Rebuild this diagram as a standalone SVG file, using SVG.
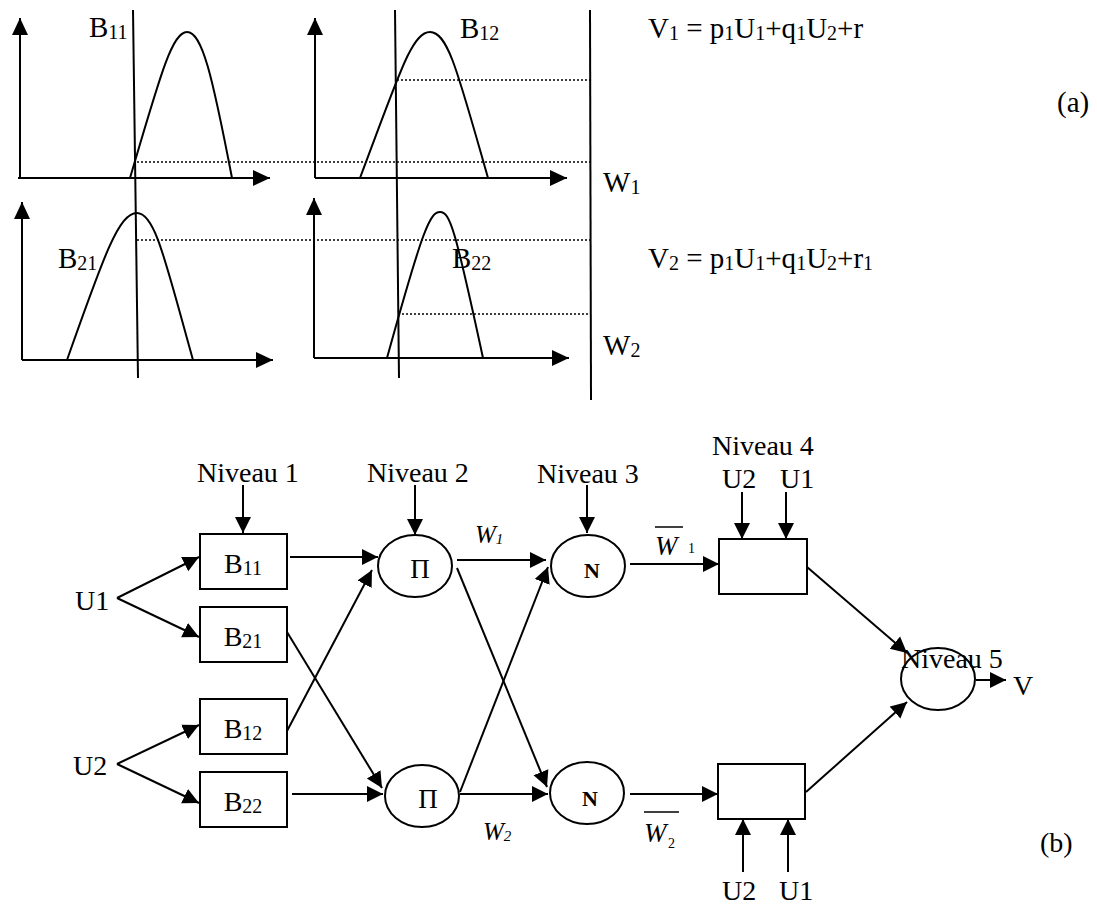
<svg xmlns="http://www.w3.org/2000/svg" width="1097" height="907" viewBox="0 0 1097 907">
<style>
text{font-family:"Liberation Serif","Times New Roman",serif;fill:#000}
.t{font-size:29px}
.n{font-size:28px}
.s{font-size:20px}
.ln{stroke:#000;stroke-width:2;fill:none}
.dot{stroke:#000;stroke-width:1.5;stroke-dasharray:2,2;fill:none}
.ax{stroke:#000;stroke-width:2;fill:none;marker-end:url(#ah)}
.ar{stroke:#000;stroke-width:2;fill:none;marker-end:url(#aw)}
.box{fill:#fff;stroke:#000;stroke-width:2}
.it{font-style:italic}
</style>
<defs>
<marker id="ah" markerUnits="userSpaceOnUse" markerWidth="18" markerHeight="16" refX="17" refY="8" orient="auto"><path d="M0,0 L17,8 L0,16 z" fill="#000"/></marker>
<marker id="aw" markerUnits="userSpaceOnUse" markerWidth="18" markerHeight="18" refX="16" refY="9" orient="auto"><path d="M0,1 L16,9 L0,17 z" fill="#000"/></marker>
</defs>

<g id="plots">
<line class="ax" x1="20" y1="178" x2="20" y2="18"/>
<line class="ax" x1="18" y1="178" x2="270" y2="178"/>
<line class="ax" x1="315" y1="178" x2="315" y2="18"/>
<line class="ax" x1="315" y1="178" x2="567" y2="178"/>
<line class="ax" x1="22" y1="360" x2="22" y2="202"/>
<line class="ax" x1="22" y1="360" x2="273" y2="360"/>
<line class="ax" x1="314" y1="358" x2="314" y2="198"/>
<line class="ax" x1="314" y1="358" x2="569" y2="358"/>
<path class="ln" d="M130,178 C160,76 172,32 187,32 C202,32 212,74 232,178"/>
<path class="ln" d="M360,178 C400,72 412,32 430,32 C448,32 458,73 488,178"/>
<path class="ln" d="M67,360 C104,255 119,213 137,213 C155,213 165,260 193,360"/>
<path class="ln" d="M387,358 C423,228 430,212 440,212 C450,212 455,228 483,358"/>
<line class="ln" x1="133" y1="10" x2="138" y2="378"/>
<line class="ln" x1="395" y1="10" x2="399" y2="378"/>
<line class="ln" x1="590" y1="10" x2="591" y2="400"/>
<line class="dot" x1="137" y1="162" x2="590" y2="162"/>
<line class="dot" x1="397" y1="80" x2="590" y2="80"/>
<line class="dot" x1="137" y1="240" x2="590" y2="240"/>
<line class="dot" x1="398" y1="314" x2="590" y2="314"/>
<text class="t" x="89" y="37">B<tspan class="s" dy="2">11</tspan></text>
<text class="t" x="460" y="38">B<tspan class="s" dy="2">12</tspan></text>
<text class="t" x="58" y="268">B<tspan class="s" dy="2">21</tspan></text>
<text class="t" x="452" y="268">B<tspan class="s" dy="2">22</tspan></text>
<text class="t" x="603" y="192">W<tspan class="s" dy="2">1</tspan></text>
<text class="t" x="603" y="355">W<tspan class="s" dy="2">2</tspan></text>
<text class="t" x="648" y="38">V<tspan class="s" dy="2">1</tspan><tspan dy="-2"> = p</tspan><tspan class="s" dy="2">1</tspan><tspan dy="-2">U</tspan><tspan class="s" dy="2">1</tspan><tspan dy="-2">+q</tspan><tspan class="s" dy="2">1</tspan><tspan dy="-2">U</tspan><tspan class="s" dy="2">2</tspan><tspan dy="-2">+r</tspan></text>
<text class="t" x="648" y="268">V<tspan class="s" dy="2">2</tspan><tspan dy="-2"> = p</tspan><tspan class="s" dy="2">1</tspan><tspan dy="-2">U</tspan><tspan class="s" dy="2">1</tspan><tspan dy="-2">+q</tspan><tspan class="s" dy="2">1</tspan><tspan dy="-2">U</tspan><tspan class="s" dy="2">2</tspan><tspan dy="-2">+r</tspan><tspan class="s" dy="2">1</tspan></text>
<text class="t" x="1057" y="112">(a)</text>
</g>

<g id="connectors">
<line class="ar" x1="117" y1="598" x2="199" y2="557"/>
<line class="ar" x1="117" y1="598" x2="199" y2="637"/>
<line class="ar" x1="117" y1="764" x2="199" y2="725"/>
<line class="ar" x1="117" y1="764" x2="199" y2="803"/>
<line class="ar" x1="243" y1="485" x2="243" y2="533"/>
<line class="ar" x1="290" y1="557" x2="378" y2="557"/>
<line class="ar" x1="287" y1="632" x2="382" y2="788"/>
<line class="ar" x1="287" y1="731" x2="372" y2="570"/>
<line class="ar" x1="292" y1="794" x2="383" y2="794"/>
<line class="ar" x1="415" y1="485" x2="415" y2="535"/>
<line class="ar" x1="457" y1="560" x2="546" y2="560"/>
<line class="ar" x1="457" y1="568" x2="547" y2="787"/>
<line class="ar" x1="460" y1="792" x2="548" y2="567"/>
<line class="ar" x1="460" y1="794" x2="548" y2="794"/>
<line class="ar" x1="587" y1="485" x2="587" y2="533"/>
<line class="ar" x1="630" y1="564" x2="719" y2="564"/>
<line class="ar" x1="630" y1="794" x2="718" y2="794"/>
<line class="ar" x1="742" y1="492" x2="742" y2="539"/>
<line class="ar" x1="786" y1="492" x2="786" y2="539"/>
<line class="ar" x1="743" y1="872" x2="743" y2="819"/>
<line class="ar" x1="788" y1="872" x2="788" y2="819"/>
<line class="ar" x1="807" y1="567" x2="907" y2="653"/>
<line class="ar" x1="806" y1="792" x2="907" y2="702"/>
<line class="ar" x1="976" y1="680" x2="1006" y2="680"/>
</g>

<g id="labels">
<text class="n" x="197" y="482">Niveau 1</text>
<text class="n" x="367" y="482">Niveau 2</text>
<text class="n" x="537" y="483">Niveau 3</text>
<text class="n" x="712" y="455">Niveau 4</text>
<text class="n" x="722" y="488">U2</text>
<text class="n" x="780" y="488">U1</text>
<text class="n" x="722" y="900">U2</text>
<text class="n" x="779" y="900">U1</text>
<text class="n" x="75" y="610">U1</text>
<text class="n" x="73" y="775">U2</text>
<text class="n" x="1013" y="695">V</text>
<text class="n" x="1040" y="852">(b)</text>
<text class="it" font-size="25" x="475" y="543">W<tspan font-size="15" dy="1">1</tspan></text>
<text class="it" font-size="25" x="483" y="840">W<tspan font-size="15" dy="1">2</tspan></text>
<line x1="655" y1="527" x2="683" y2="527" stroke="#000" stroke-width="1.5"/>
<text class="it" font-size="27" x="655" y="555">W</text>
<text font-size="14" x="688" y="553">1</text>
<line x1="644" y1="812" x2="679" y2="812" stroke="#000" stroke-width="1.5"/>
<text class="it" font-size="27" x="644" y="842">W</text>
<text font-size="14" x="668" y="848">2</text>
</g>

<g id="B11"><rect class="box" x="200" y="534" width="87" height="55"/><text class="n" x="243" y="573" text-anchor="middle">B<tspan class="s" dy="2">11</tspan></text></g>
<g id="B21"><rect class="box" x="200" y="607" width="87" height="55"/><text class="n" x="243" y="646" text-anchor="middle">B<tspan class="s" dy="2">21</tspan></text></g>
<g id="B12"><rect class="box" x="200" y="699" width="87" height="55"/><text class="n" x="243" y="738" text-anchor="middle">B<tspan class="s" dy="2">12</tspan></text></g>
<g id="B22"><rect class="box" x="200" y="772" width="87" height="55"/><text class="n" x="243" y="811" text-anchor="middle">B<tspan class="s" dy="2">22</tspan></text></g>
<g id="P1"><ellipse class="box" cx="415" cy="566" rx="37" ry="31"/><text font-size="27" x="420" y="578" text-anchor="middle">Π</text></g>
<g id="P2"><ellipse class="box" cx="422" cy="796" rx="37" ry="31"/><text font-size="27" x="428" y="808" text-anchor="middle">Π</text></g>
<g id="N1"><ellipse class="box" cx="588" cy="566" rx="37" ry="31"/><text font-size="22" font-weight="bold" x="592" y="578" text-anchor="middle">N</text></g>
<g id="N2"><ellipse class="box" cx="587" cy="793" rx="37" ry="31"/><text font-size="22" font-weight="bold" x="590" y="806" text-anchor="middle">N</text></g>
<g id="L4a"><rect class="box" x="719" y="539" width="88" height="55"/></g>
<g id="L4b"><rect class="box" x="718" y="764" width="87" height="55"/></g>
<g id="L5"><ellipse class="box" cx="938" cy="679" rx="37" ry="31"/><text class="n" x="901" y="668">Niveau 5</text></g>
</svg>
